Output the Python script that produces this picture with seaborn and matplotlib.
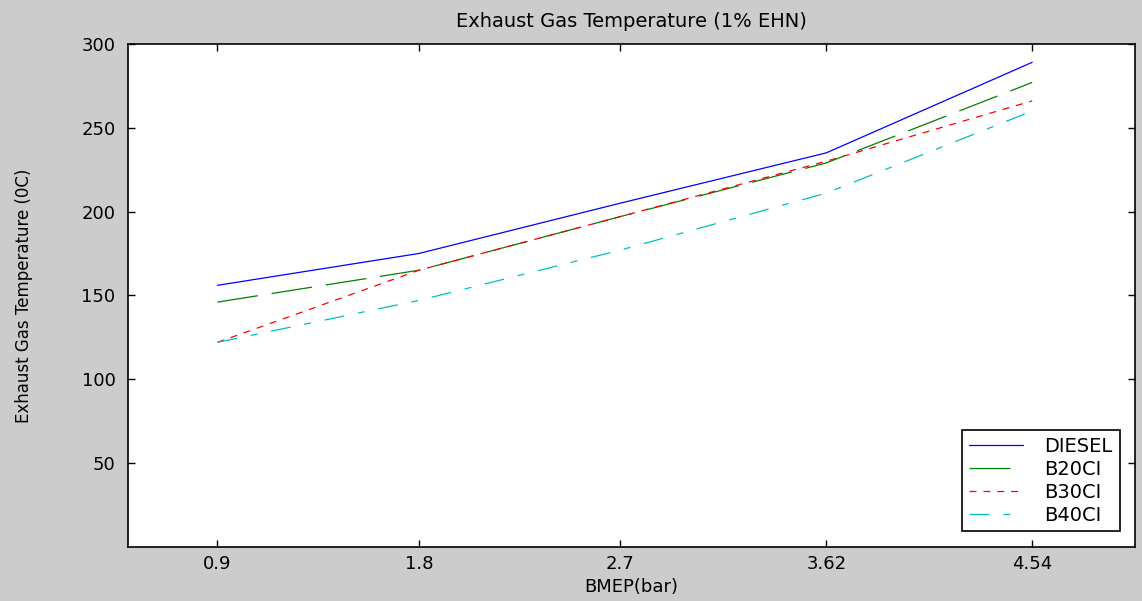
import pandas as pd
import matplotlib
matplotlib.use("Agg")
import matplotlib.pyplot as plt
import seaborn as sns

# values
bmep = [0.9, 1.8, 2.7, 3.62, 4.54]
diesel = [156, 175, 205, 235, 289]
b20ci = [146, 165, 197, 229, 277]
b30ci = [122, 165, 197, 230, 266]
b40ci = [122, 147, 177, 211, 260]
fuels = ["DIESEL", "B20CI", "B30CI", "B40CI"]
y_ticks = [50, 100, 150, 200, 250, 300]

df = pd.DataFrame({
    "bmep": bmep * 4,
    "temp": diesel + b20ci + b30ci + b40ci,
    "fuel": [f for f in fuels for _ in bmep],
})

sns.set_style("ticks")
plt.rcParams["font.family"] = ["DejaVu Sans"]
plt.rcParams["text.color"] = "black"
plt.rcParams["axes.labelcolor"] = "black"
plt.rcParams["xtick.direction"] = "in"
plt.rcParams["ytick.direction"] = "in"
plt.rcParams["lines.scale_dashes"] = False

fig = plt.figure(figsize=(11.42, 6.01), dpi=100, facecolor="#cccccc")
ax = fig.add_axes([0.112, 0.09, 0.882, 0.837])
ax.set_facecolor("white")

palette = {"DIESEL": "#0000ff", "B20CI": "#008000", "B30CI": "#ff0000", "B40CI": "#00bfbf"}
dashes = {"DIESEL": "", "B20CI": (29.5, 10), "B30CI": (5, 5), "B40CI": (14.4, 10, 5, 10)}

sns.lineplot(data=df, x="bmep", y="temp", hue="fuel", style="fuel",
             palette=palette, dashes=dashes, hue_order=fuels, style_order=fuels,
             linewidth=0.9, ax=ax, legend=True)

ax.set_xlim(0.5, 5)
ax.set_ylim(0, 300)
ax.set_xticks(bmep)
ax.set_xticklabels([str(v) for v in bmep])
ax.set_yticks(y_ticks)
ax.tick_params(axis="both", labelsize=13, length=5, width=1, colors="black",
               top=True, right=True)
ax.tick_params(axis="y", pad=9)
ax.tick_params(axis="x", pad=5.5)
for s in ax.spines.values():
    s.set_color("black")
    s.set_linewidth(1.2)

ax.set_title("Exhaust Gas Temperature (1% EHN)", fontsize=14, pad=12, color="black")
ax.set_xlabel("BMEP(bar)", fontsize=13)
ax.xaxis.set_label_coords(0.5, -0.062)
ax.set_ylabel("Exhaust Gas Temperature (0C)", fontsize=12)
ax.yaxis.set_label_coords(-0.094, 0.5)

leg = ax.legend(loc="lower right", fontsize=14, fancybox=False, framealpha=1,
                edgecolor="black", handlelength=2.8, handletextpad=1.1,
                labelspacing=0.2, borderaxespad=0.8, borderpad=0.35)
leg.get_frame().set_linewidth(1.2)
for t in leg.get_texts():
    t.set_color("black")

fig.savefig("out.png", dpi=100, facecolor=fig.get_facecolor())
